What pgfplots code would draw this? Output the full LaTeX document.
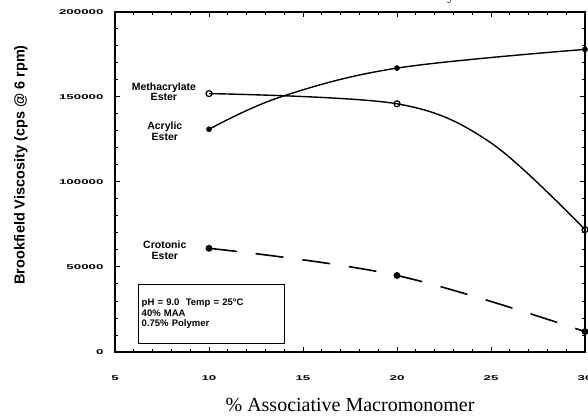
\documentclass[border=0pt]{standalone}
\usepackage{pgfplots}
\pgfplotsset{compat=1.18}
\usepackage{fontspec}
\setmainfont{Liberation Serif}
\newfontfamily\sansb{Liberation Sans}
\newfontfamily\tickf[FakeStretch=1.9]{Liberation Sans Bold}
\begin{document}
\begin{tikzpicture}[x=1pt,y=1pt]
\begin{axis}[
  at={(0,0)}, anchor=south west,
  scale only axis, width=470pt, height=340pt,
  xmin=5, xmax=30, ymin=0, ymax=200000,
  xtick={5,10,15,20,25,30},
  xticklabels={5,10,15,20,25,30},
  ytick={0,50000,100000,150000,200000},
  yticklabels={0,50000,100000,150000,200000},
  minor x tick num=4, minor y tick num=4,
  scaled y ticks=false,
  tick align=inside,
  major tick length=5pt, minor tick length=3pt,
  every tick/.style={black, line width=1pt},
  axis line style={line width=1.3pt},
  tick label style={font=\tickf\fontsize{7}{7}\selectfont},
  xticklabel style={yshift=-20pt},
  yticklabel style={xshift=-8pt},
  xlabel={\fontsize{20}{22}\selectfont\% Associative Macromonomer},
  xlabel style={at={(axis description cs:0.5,-0.155)}, anchor=center},
  ylabel={\sansb\bfseries\fontsize{14.5}{15}\selectfont Brookfield Viscosity (cps @ 6 rpm)},
  ylabel style={at={(axis description cs:-0.2,0.55)}, anchor=center},
  clip=false,
]
% Methacrylate Ester (curve)
\addplot[black, line width=1.4pt, smooth, tension=0.55] coordinates {
  (10,152000) (20,146000) (25,123000) (30,72000)};
\addplot[only marks, mark=o, mark size=3pt, mark options={line width=1.2pt, fill=white}] coordinates {
  (10,152000) (20,146000) (30,72000)};
% Acrylic Ester (curve)
\addplot[black, line width=1.4pt, smooth, tension=0.6] coordinates {
  (10,131000) (13.8,150000) (20,167000) (30,178000)};
\addplot[only marks, mark=*, mark size=2.6pt] coordinates {
  (10,131000) (20,167000) (30,178000)};
% Crotonic Ester
\addplot[black, line width=1.6pt, smooth, tension=0.6, dash pattern=on 28pt off 19pt, mark=*, mark size=2.6pt, mark options={solid}] coordinates {
  (10,61000) (20,45000) (30,12000)};
\node[font=\sansb\bfseries\fontsize{10.5}{10.5}\selectfont, align=center] at (axis cs:7.6,153000) {Methacrylate\\Ester};
\node[font=\sansb\bfseries\fontsize{10.5}{10.5}\selectfont, align=center] at (axis cs:7.65,130000) {Acrylic\\Ester};
\node[font=\sansb\bfseries\fontsize{10.5}{10.5}\selectfont, align=center] at (axis cs:7.65,60000) {Crotonic\\Ester};
\node[draw, line width=1.2pt, anchor=north west, align=left, inner sep=3pt,
  text width=140pt, minimum height=59pt,
  font=\sansb\bfseries\fontsize{9.5}{10.5}\selectfont] at (axis cs:6.23,40000) {pH = 9.0\ \ Temp = 25\textdegree C\\40\% MAA\\0.75\% Polymer};
\end{axis}
\node[anchor=base, font=\fontsize{14}{14}\selectfont] at (326,351) {tivity.};
\pgfresetboundingbox
\path[use as bounding box] (-115,-65) rectangle (473,352);
\end{tikzpicture}
\end{document}
